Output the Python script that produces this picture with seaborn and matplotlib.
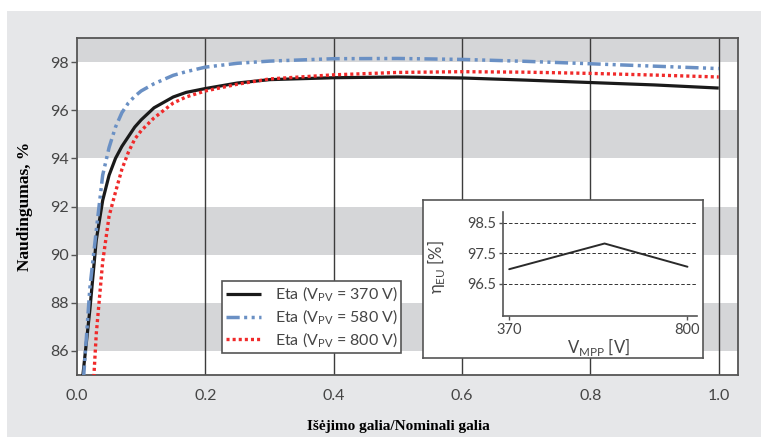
import numpy as np
import pandas as pd
import matplotlib
matplotlib.use("Agg")
import matplotlib.pyplot as plt
from matplotlib.patches import Rectangle
import seaborn as sns

# ---------------- data ----------------
power_ratio = [0.005, 0.01, 0.02, 0.03, 0.04, 0.05, 0.06, 0.07, 0.08, 0.09, 0.10,
               0.12, 0.15, 0.17, 0.20, 0.25, 0.30, 0.40, 0.50, 0.60, 0.70, 0.80,
               0.90, 1.00]
eta_370 = [84.0, 85.2, 87.7, 90.6, 92.25, 93.3, 94.0, 94.5, 94.9, 95.3, 95.6,
           96.1, 96.55, 96.74, 96.9, 97.13, 97.27, 97.35, 97.38, 97.34, 97.25,
           97.15, 97.05, 96.92]
eta_580 = [83.5, 84.8, 88.6, 91.0, 93.3, 94.45, 95.3, 95.9, 96.3, 96.58, 96.8,
           97.1, 97.45, 97.6, 97.79, 97.95, 98.04, 98.14, 98.15, 98.11, 98.03,
           97.93, 97.83, 97.73]
eta_800 = [78.0, 80.0, 82.0, 86.7, 89.7, 91.6, 92.6, 93.55, 94.25, 94.8, 95.15,
           95.68, 96.3, 96.55, 96.8, 97.08, 97.3, 97.47, 97.57, 97.6, 97.58,
           97.53, 97.46, 97.38]
series_labels = [r"Eta (V$_{\mathregular{PV}}$ = 370 V)",
                 r"Eta (V$_{\mathregular{PV}}$ = 580 V)",
                 r"Eta (V$_{\mathregular{PV}}$ = 800 V)"]
x_ticks = [0.0, 0.2, 0.4, 0.6, 0.8, 1.0]
y_ticks = [86, 88, 90, 92, 94, 96, 98]

vmpp = [370, 600, 800]
eta_eu = [96.98, 97.82, 97.06]
inset_yticks = [96.5, 97.5, 98.5]
inset_xticks = [370, 800]

# ---------------- style ----------------
sns.set_style("white")
plt.rcParams["font.family"] = ["Lato", "DejaVu Sans"]
plt.rcParams["mathtext.fontset"] = "custom"
plt.rcParams["mathtext.rm"] = "Lato"
plt.rcParams["lines.scale_dashes"] = False

W, H = 761, 437
fig = plt.figure(figsize=(W / 100, H / 100), dpi=100, facecolor="white")

def fx(px):
    return px / W

def fy(py):
    return 1 - py / H

# light grey panel
fig.patches.append(Rectangle((fx(7), 0), 1, fy(11), transform=fig.transFigure,
                             facecolor="#e6e7e9", edgecolor="none", zorder=-10))

ax = fig.add_axes([fx(77), fy(375), fx(738 - 77), (375 - 38) / H])
ax.set_zorder(1)
ax.set_facecolor("white")
for lo, hi in [(98, 99), (94, 96), (90, 92), (86, 88)]:
    ax.axhspan(lo, hi, color="#d5d6d8", lw=0, zorder=0)

df = pd.DataFrame({"x": power_ratio, "a": eta_370, "b": eta_580, "c": eta_800})
colors = ["#1a1a1a", "#6a90c4", "#f02a2a"]
for col, c, lab in zip(["a", "b", "c"], colors, series_labels):
    sns.lineplot(data=df, x="x", y=col, ax=ax, color=c, label=lab, lw=2.3,
                 zorder=3)
lines = ax.get_lines()
lines[0].set_solid_capstyle("butt")
lines[0].set_solid_joinstyle("round")
lines[1].set_linestyle((0, (9.5, 3.2, 2.2, 3.2, 2.2, 3.2)))
lines[1].set_dash_capstyle("butt")
lines[1].set_linewidth(2.5)
lines[2].set_linestyle((0, (2.2, 2.2)))
lines[2].set_dash_capstyle("butt")
lines[2].set_linewidth(2.4)

ax.set_xlim(0, 1.03)
ax.set_ylim(85, 99)
ax.set_xticks(x_ticks)
ax.set_xticklabels([f"{v:.1f}" for v in x_ticks])
ax.set_yticks(y_ticks)
ax.set_yticklabels([str(v) for v in y_ticks])
for v in x_ticks[1:]:
    ax.axvline(v, color="#3c3c3c", lw=1.0, zorder=2)
for s in ax.spines.values():
    s.set_color("#555555")
    s.set_linewidth(1.3)
ax.tick_params(axis="y", length=4, width=1, color="#555555", pad=2,
               labelsize=11.5, labelcolor="#454545", direction="out", left=True)
ax.tick_params(axis="x", length=0, pad=10, labelsize=11.5, labelcolor="#454545")

ax.set_xlabel("Išėjimo galia/Nominali galia", family="Liberation Serif",
              fontweight="bold", fontsize=11, color="black")
ax.xaxis.set_label_coords(0.486, -0.135)
ax.set_ylabel("Naudingumas, %", family="Liberation Serif", fontweight="bold",
              fontsize=12.5, color="black")
ax.yaxis.set_label_coords(-0.066, 0.5)

leg = ax.legend(loc="upper left", bbox_to_anchor=(fx(222), fy(281)),
                bbox_transform=fig.transFigure, borderaxespad=0, frameon=True,
                fancybox=False, framealpha=1, edgecolor="#555555",
                fontsize=11.5, handlelength=2.2, handletextpad=0.9,
                labelspacing=0.22, borderpad=0.22)
leg.get_frame().set_linewidth(1.2)
for t in leg.get_texts():
    t.set_color("#454545")
leg.set_zorder(5)

# ---------------- inset ----------------
box = fig.add_axes([fx(423), fy(358), fx(703 - 423), (358 - 200) / H])
box.set_facecolor("white")
box.set_xticks([])
box.set_yticks([])
for s in box.spines.values():
    s.set_color("#555555")
    s.set_linewidth(1.2)
box.set_zorder(6)

ins = fig.add_axes([fx(503), fy(316), fx(697 - 503), (316 - 212) / H])
ins.set_facecolor("none")
ins.set_zorder(7)
sns.lineplot(x=vmpp, y=eta_eu, ax=ins, color="#2a2a2a", lw=1.4)
ins.set_xlim(355, 823)
ins.set_ylim(95.45, 98.85)
ins.set_yticks(inset_yticks)
ins.set_yticklabels([f"{v:.1f}" for v in inset_yticks])
ins.set_xticks(inset_xticks)
ins.set_xticklabels([str(v) for v in inset_xticks])
for v in inset_yticks:
    ins.axhline(v, color="#333333", lw=0.7, ls=(0, (2.5, 1.5)), zorder=1)
for side in ["top", "right"]:
    ins.spines[side].set_visible(False)
for side in ["left", "bottom"]:
    ins.spines[side].set_color("#555555")
    ins.spines[side].set_linewidth(1.2)
ins.tick_params(length=3, width=1, color="#555555", labelsize=10.5,
                labelcolor="#454545", pad=2, direction="out",
                left=True, bottom=True)
ins.set_xlabel(r"V$_{\mathregular{MPP}}$ [V]", fontsize=12, color="#454545")
ins.xaxis.set_label_coords(0.49, -0.19)
ins.set_ylabel(r"η$_{\mathregular{EU}}$ [%]", fontsize=12, color="#454545")
ins.yaxis.set_label_coords(-0.29, 0.47)

fig.savefig("out.png", dpi=100, facecolor="white")
